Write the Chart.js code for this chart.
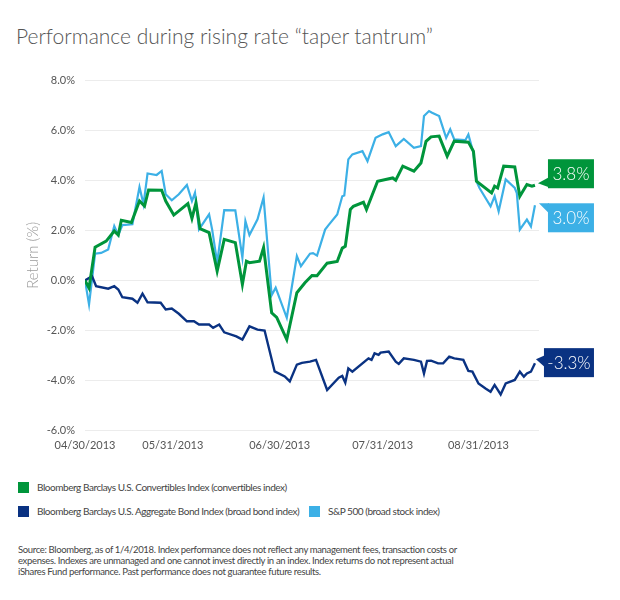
<!DOCTYPE html>
<html>
<head>
<meta charset="utf-8">
<script src="https://cdn.jsdelivr.net/npm/chart.js@4.4.1/dist/chart.umd.min.js"></script>
<style>
  body { margin: 0; background: #fff; width: 620px; height: 600px; position: relative; font-family: Lato, "Open Sans", sans-serif; overflow: hidden; }
  #title { position: absolute; left: 16px; top: 23px; font-size: 21px; font-weight: 300; color: #555; white-space: nowrap; }
  #wrap { position: absolute; left: 0; top: 60px; width: 620px; height: 400px; }
  .leg { position: absolute; font-size: 10px; letter-spacing: -0.45px; color: #444; white-space: nowrap; }
  .leg span { display: inline-block; width: 11px; height: 11px; vertical-align: middle; margin-right: 8px; position: relative; top: -1px; }
  #note { position: absolute; left: 18px; top: 544px; font-size: 9.5px; letter-spacing: -0.35px; line-height: 11px; color: #444; white-space: nowrap; }
</style>
</head>
<body>
<div id="title">Performance during rising rate “taper tantrum”</div>
<div id="wrap"><canvas id="chart"></canvas></div>
<div class="leg" style="left:18px; top:481px;"><span style="background:#00953b"></span>Bloomberg Barclays U.S. Convertibles Index (convertibles index)</div>
<div class="leg" style="left:18px; top:505px;"><span style="background:#0a3282"></span>Bloomberg Barclays U.S. Aggregate Bond Index (broad bond index)</div>
<div class="leg" style="left:309px; top:505px;"><span style="background:#3cb0e6"></span>S&amp;P 500 (broad stock index)</div>
<div id="note">Source: Bloomberg, as of 1/4/2018. Index performance does not reflect any management fees, transaction costs or<br>expenses. Indexes are unmanaged and one cannot invest directly in an index. Index returns do not represent actual<br>iShares Fund performance. Past performance does not guarantee future results.</div>
<script>
// x values are trading days after 04/30/2013
const tickDays = [0, 17.4, 38.6, 59, 78];
const tickLabels = ["04/30/2013", "05/31/2013", "06/30/2013", "07/31/2013", "08/31/2013"];

const convDays = [0, 0.8, 2, 4.2, 5.8, 6.6, 7.2, 9.2, 10.8, 11.8, 12.6, 15.2, 16, 17.6, 20.4, 21.2, 22, 22.8, 24.6, 26.2, 27.6, 29.8, 31.2, 32, 32.6, 34.6, 35.4, 37, 38, 40, 42, 43.6, 45, 46, 48, 50, 51, 51.6, 52.6, 53.2, 55.2, 55.8, 58, 59.6, 61, 61.6, 63, 65.2, 66.6, 67.6, 68.6, 70.2, 71.8, 73.2, 76, 77, 77.6, 80.6, 81.2, 81.8, 83, 85.2, 86.2, 87.6, 88.6, 89.2];
const convReturns = [0, -0.3, 1.33, 1.57, 1.97, 1.81, 2.4, 2.31, 3.17, 2.97, 3.61, 3.6, 3.17, 2.61, 3.07, 2.48, 3.1, 2.07, 1.91, 0.37, 1.64, 1.51, -0.16, 0.77, 0.71, 0.77, 1.31, -1.29, -1.47, -2.36, -0.49, -0.09, 0.2, 0.19, 0.69, 0.76, 1.29, 1.36, 2.83, 2.96, 3.12, 2.83, 3.96, 4.03, 4.09, 4.0, 4.56, 4.36, 4.69, 5.55, 5.73, 5.76, 4.96, 5.56, 5.52, 5.16, 3.96, 3.49, 3.76, 3.69, 4.56, 4.53, 3.36, 3.83, 3.76, 3.8];

const bondDays = [0, 1.4, 2.2, 4.6, 5.8, 6.6, 7.4, 9.4, 10.4, 11.4, 12.4, 15, 16, 17.2, 18.6, 20.2, 21.6, 22.6, 24.6, 25.4, 26.6, 27.6, 30, 31.2, 32.6, 34.2, 35.6, 37.6, 39.6, 40.6, 42, 43, 44.6, 45.8, 48, 50.3, 51, 51.6, 52.2, 53, 56.2, 56.8, 57.4, 58.2, 58.6, 60.2, 61.6, 62.2, 63.2, 65.2, 66.6, 67.2, 67.8, 68.6, 70, 71, 72.2, 73.2, 75, 76, 76.8, 78, 79.4, 80.4, 81.2, 82.4, 83.4, 85.2, 86.2, 87, 87.6, 88.4, 89.2];
const bondReturns = [0, 0.17, -0.23, -0.33, -0.23, -0.36, -0.67, -0.73, -0.89, -0.53, -0.87, -0.89, -1.16, -1.12, -1.33, -1.63, -1.63, -1.76, -1.76, -1.89, -1.76, -2.07, -2.23, -2.36, -1.83, -1.96, -2.0, -3.63, -3.83, -4.03, -3.36, -3.29, -3.24, -3.17, -4.37, -3.88, -3.81, -4.08, -3.51, -3.64, -3.11, -3.17, -2.91, -2.97, -2.88, -2.84, -3.24, -3.33, -3.11, -3.17, -3.24, -3.71, -3.21, -3.2, -3.31, -3.31, -3.04, -3.11, -3.17, -3.61, -3.64, -4.11, -4.31, -4.44, -4.17, -4.55, -4.11, -3.97, -3.64, -3.84, -3.71, -3.64, -3.3];

const spDays = [0, 0.8, 2, 3.2, 4.6, 5.8, 6.6, 7.4, 9.4, 10.8, 11.6, 12.4, 14.2, 15.2, 16, 17.2, 18.6, 20.2, 21.2, 21.8, 22.6, 24.6, 25.2, 26.2, 27.6, 29.8, 31.2, 31.8, 32.6, 34.2, 35.4, 37, 37.8, 40, 42, 42.8, 44.6, 45.2, 46, 47.6, 48.2, 50, 51, 51.4, 52.2, 53, 55, 56, 57.6, 59, 60.2, 61.6, 63.2, 65.2, 66.6, 67.2, 68.2, 68.8, 70.2, 71.6, 72.4, 73.2, 75.4, 76, 77, 77.6, 78.2, 80.4, 81.2, 82, 83.4, 85.2, 85.6, 86.2, 87.6, 88.4, 89.2];
const spReturns = [0, -0.96, 1.07, 1.1, 1.24, 2.17, 1.81, 2.21, 2.24, 3.73, 3.04, 4.27, 4.21, 4.37, 3.44, 3.2, 3.44, 3.81, 3.17, 3.5, 2.04, 2.64, 2.04, 0.71, 2.81, 2.8, 0.91, 2.37, 1.81, 2.44, 3.31, -0.59, -0.29, -1.49, 0.97, 0.57, 1.07, 1.09, 0.99, 2.03, 2.19, 2.63, 3.36, 3.39, 4.83, 5.03, 5.16, 4.76, 5.69, 5.83, 5.92, 5.36, 5.65, 5.29, 5.36, 6.56, 6.76, 6.69, 6.56, 5.69, 6.03, 5.63, 5.6, 5.83, 5.09, 3.96, 3.69, 2.96, 3.36, 2.76, 4.03, 3.69, 3.49, 2.03, 2.43, 2.16, 3.0];

function pts(days, vals) {
  return days.map((d, i) => ({ x: d, y: vals[i] }));
}

// boxed value labels at the end of each line
const callouts = {
  id: "callouts",
  afterDatasetsDraw(chart) {
    const ctx = chart.ctx;
    chart.data.datasets.forEach((ds, i) => {
      const meta = chart.getDatasetMeta(i);
      const last = meta.data[meta.data.length - 1];
      const c = ds.callout;
      const bx = last.x + c.dx, by = last.y + c.dy, bw = c.w, bh = 29;
      const val = ds.data[ds.data.length - 1].y;
      ctx.save();
      ctx.fillStyle = ds.borderColor;
      ctx.beginPath();
      ctx.moveTo(last.x + c.tipX, last.y + c.tipY);
      ctx.lineTo(bx + 1, by + c.baseTop);
      ctx.lineTo(bx + 1, by + c.baseTop + c.baseLen);
      ctx.closePath();
      ctx.fill();
      ctx.fillRect(bx, by, bw, bh);
      ctx.fillStyle = "#fff";
      ctx.font = "300 17px Lato";
      ctx.textAlign = "center";
      ctx.textBaseline = "middle";
      ctx.fillText(val.toFixed(1) + "%", bx + bw / 2, by + bh / 2 + 1);
      ctx.restore();
    });
  }
};

new Chart(document.getElementById("chart"), {
  type: "line",
  data: {
    datasets: [
      {
        label: "Bloomberg Barclays U.S. Convertibles Index (convertibles index)",
        data: pts(convDays, convReturns),
        borderColor: "#00953b",
        borderWidth: 3,
        order: 0,
        callout: { dx: 13, dy: -26, w: 46, tipX: 3, tipY: -2, baseTop: 18, baseLen: 10 }
      },
      {
        label: "Bloomberg Barclays U.S. Aggregate Bond Index (broad bond index)",
        data: pts(bondDays, bondReturns),
        borderColor: "#0a3282",
        borderWidth: 2.4,
        order: 1,
        callout: { dx: 9, dy: -15, w: 50, tipX: 1, tipY: -4, baseTop: 7, baseLen: 12 }
      },
      {
        label: "S&P 500 (broad stock index)",
        data: pts(spDays, spReturns),
        borderColor: "#3cb0e6",
        borderWidth: 2.2,
        order: 2,
        callout: { dx: 13, dy: -2, w: 46, tipX: 4, tipY: -2, baseTop: 0, baseLen: 10 }
      }
    ]
  },
  options: {
    responsive: true,
    maintainAspectRatio: false,
    animation: false,
    layout: { padding: { left: 20, right: 81, top: 20, bottom: 8 } },
    elements: { point: { radius: 0 }, line: { tension: 0 } },
    plugins: { legend: { display: false }, tooltip: { enabled: false } },
    scales: {
      x: {
        type: "linear",
        min: 0,
        max: 90,
        grid: { display: false },
        border: { display: false },
        afterBuildTicks: axis => { axis.ticks = tickDays.map(v => ({ value: v })); },
        ticks: {
          autoSkip: false,
          maxRotation: 0,
          padding: 0,
          color: "#555",
          font: { family: "Lato", size: 11 },
          callback: (v, i) => tickLabels[i]
        }
      },
      y: {
        min: -6,
        max: 8,
        afterFit: axis => { axis.width = 65; },
        grid: { color: "#ececec", lineWidth: 1, drawTicks: false },
        border: { display: false },
        ticks: {
          stepSize: 2,
          padding: 10,
          color: "#555",
          font: { family: "Lato", size: 11 },
          callback: v => v.toFixed(1) + "%"
        },
        title: {
          display: true,
          text: "Return (%)",
          color: "#9a9a9a",
          font: { family: "Lato", size: 15, weight: 300 },
          padding: { top: 4, bottom: 4 }
        }
      }
    }
  },
  plugins: [callouts]
});
</script>
</body>
</html>
